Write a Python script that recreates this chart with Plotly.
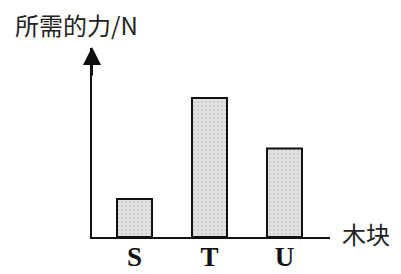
import plotly.graph_objects as go

categories = ["S", "T", "U"]
force_values = [1.5, 5.5, 3.5]
y_title = "所需的力/N"
x_title = "木块"

fig = go.Figure()
fig.add_trace(go.Bar(
    x=[0, 1, 2], y=force_values, width=0.467,
    marker=dict(color="#d6d6d6", line=dict(color="#111111", width=2),
                pattern=dict(shape=".", fgcolor="#b8b8b8", bgcolor="#e2e2e2", size=4, solidity=0.25)),
))

# page body has an 8px margin, so the figure is sized/offset to compensate
fig.update_layout(
    width=393, height=266,
    margin=dict(l=84, r=71, t=40, b=37, pad=0, autoexpand=False),
    paper_bgcolor="white", plot_bgcolor="white",
    showlegend=False,
    xaxis=dict(range=[-0.567, 2.607], tickmode="array", tickvals=[0, 1, 2], ticktext=categories,
               showline=True, linecolor="#111111", linewidth=2, showgrid=False, zeroline=False,
               automargin=False, ticks="", ticklabelstandoff=-5,
               tickfont=dict(family="Liberation Serif", size=27, color="#111111", weight="bold")),
    yaxis=dict(range=[0, 7.48], showline=True, linecolor="#111111", linewidth=2, automargin=False,
               showgrid=False, zeroline=False, showticklabels=False, ticks=""),
)

fig.add_annotation(xref="paper", yref="paper", x=0, y=1.005, ax=0, ay=30,
                   showarrow=True, arrowhead=2, arrowsize=1.8, arrowwidth=2,
                   arrowcolor="#111111", text="")
fig.add_annotation(xref="paper", yref="paper", x=-0.33, y=1.125, xanchor="left", yanchor="middle",
                   text=y_title, showarrow=False,
                   font=dict(family="Noto Sans CJK SC", size=24, color="#222222"))
fig.add_annotation(xref="paper", yref="paper", x=1.04, y=0.021, xanchor="left", yanchor="middle",
                   text=x_title, showarrow=False,
                   font=dict(family="Noto Sans CJK SC", size=24, color="#222222"))

fig.write_html("out.html")
